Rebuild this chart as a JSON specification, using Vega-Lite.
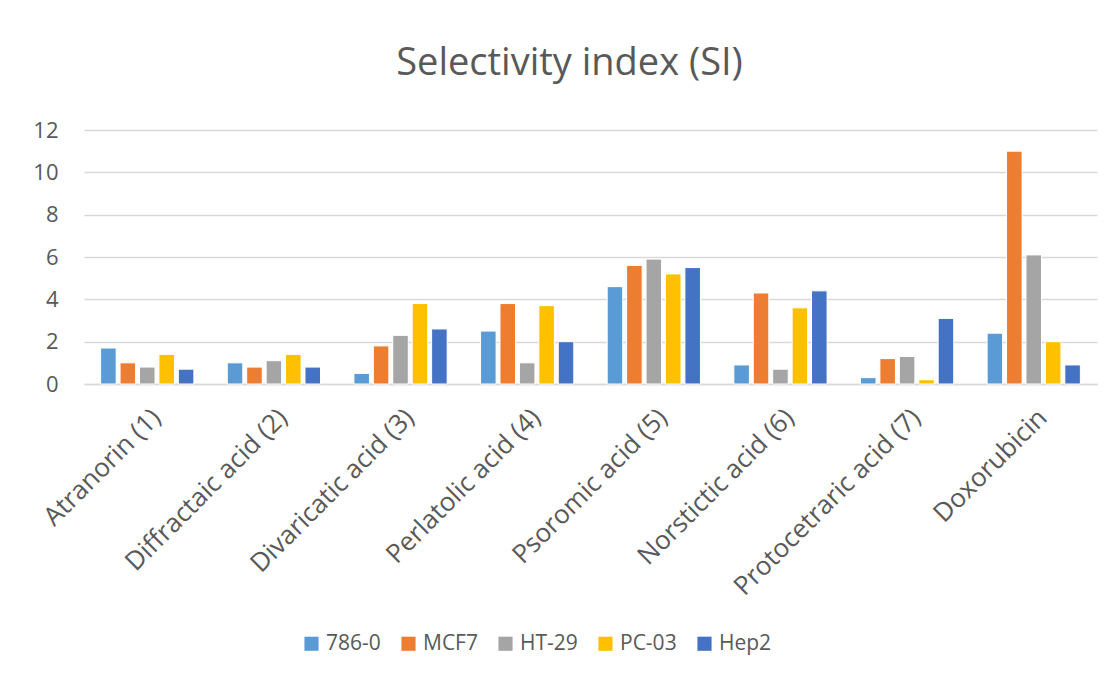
{
  "$schema": "https://vega.github.io/schema/vega-lite/v6.json",
  "autosize": "none",
  "width": 1013,
  "height": 254,
  "padding": {"left": 84, "top": 130, "right": 21, "bottom": 295},
  "background": "white",
  "title": {
    "text": "Selectivity index (SI)",
    "font": "Open Sans",
    "fontSize": 38,
    "fontWeight": "normal",
    "color": "#595959",
    "anchor": "middle",
    "dx": -21,
    "offset": 36
  },
  "data": {
    "values": [
      {"compound": "Atranorin (1)", "line": "786-0", "si": 1.7},
      {"compound": "Atranorin (1)", "line": "MCF7", "si": 1.0},
      {"compound": "Atranorin (1)", "line": "HT-29", "si": 0.8},
      {"compound": "Atranorin (1)", "line": "PC-03", "si": 1.4},
      {"compound": "Atranorin (1)", "line": "Hep2", "si": 0.7},
      {"compound": "Diffractaic acid (2)", "line": "786-0", "si": 1.0},
      {"compound": "Diffractaic acid (2)", "line": "MCF7", "si": 0.8},
      {"compound": "Diffractaic acid (2)", "line": "HT-29", "si": 1.1},
      {"compound": "Diffractaic acid (2)", "line": "PC-03", "si": 1.4},
      {"compound": "Diffractaic acid (2)", "line": "Hep2", "si": 0.8},
      {"compound": "Divaricatic acid (3)", "line": "786-0", "si": 0.5},
      {"compound": "Divaricatic acid (3)", "line": "MCF7", "si": 1.8},
      {"compound": "Divaricatic acid (3)", "line": "HT-29", "si": 2.3},
      {"compound": "Divaricatic acid (3)", "line": "PC-03", "si": 3.8},
      {"compound": "Divaricatic acid (3)", "line": "Hep2", "si": 2.6},
      {"compound": "Perlatolic acid (4)", "line": "786-0", "si": 2.5},
      {"compound": "Perlatolic acid (4)", "line": "MCF7", "si": 3.8},
      {"compound": "Perlatolic acid (4)", "line": "HT-29", "si": 1.0},
      {"compound": "Perlatolic acid (4)", "line": "PC-03", "si": 3.7},
      {"compound": "Perlatolic acid (4)", "line": "Hep2", "si": 2.0},
      {"compound": "Psoromic acid (5)", "line": "786-0", "si": 4.6},
      {"compound": "Psoromic acid (5)", "line": "MCF7", "si": 5.6},
      {"compound": "Psoromic acid (5)", "line": "HT-29", "si": 5.9},
      {"compound": "Psoromic acid (5)", "line": "PC-03", "si": 5.2},
      {"compound": "Psoromic acid (5)", "line": "Hep2", "si": 5.5},
      {"compound": "Norstictic acid (6)", "line": "786-0", "si": 0.9},
      {"compound": "Norstictic acid (6)", "line": "MCF7", "si": 4.3},
      {"compound": "Norstictic acid (6)", "line": "HT-29", "si": 0.7},
      {"compound": "Norstictic acid (6)", "line": "PC-03", "si": 3.6},
      {"compound": "Norstictic acid (6)", "line": "Hep2", "si": 4.4},
      {"compound": "Protocetraric acid (7)", "line": "786-0", "si": 0.3},
      {"compound": "Protocetraric acid (7)", "line": "MCF7", "si": 1.2},
      {"compound": "Protocetraric acid (7)", "line": "HT-29", "si": 1.3},
      {"compound": "Protocetraric acid (7)", "line": "PC-03", "si": 0.2},
      {"compound": "Protocetraric acid (7)", "line": "Hep2", "si": 3.1},
      {"compound": "Doxorubicin", "line": "786-0", "si": 2.4},
      {"compound": "Doxorubicin", "line": "MCF7", "si": 11.0},
      {"compound": "Doxorubicin", "line": "HT-29", "si": 6.1},
      {"compound": "Doxorubicin", "line": "PC-03", "si": 2.0},
      {"compound": "Doxorubicin", "line": "Hep2", "si": 0.9}
    ]
  },
  "mark": {"type": "bar", "stroke": "white", "strokeWidth": 1},
  "encoding": {
    "x": {
      "field": "compound",
      "type": "nominal",
      "sort": null,
      "scale": {"paddingInner": 0.233, "paddingOuter": 0.116},
      "axis": {
        "title": null,
        "labelAngle": -45,
        "labelFont": "Open Sans",
        "labelFontSize": 26,
        "labelLimit": 400,
        "labelColor": "#595959",
        "labelPadding": 20,
        "ticks": false,
        "domain": true,
        "domainColor": "#d9d9d9",
        "domainWidth": 1.5,
        "grid": false
      }
    },
    "xOffset": {
      "field": "line",
      "type": "nominal",
      "sort": ["786-0", "MCF7", "HT-29", "PC-03", "Hep2"],
      "scale": {"paddingInner": 0.2, "paddingOuter": 0.1}
    },
    "y": {
      "field": "si",
      "type": "quantitative",
      "scale": {"domain": [0, 12], "nice": false},
      "axis": {
        "title": null,
        "values": [0, 2, 4, 6, 8, 10, 12],
        "labelFont": "Open Sans",
        "labelFontSize": 22,
        "labelColor": "#595959",
        "labelPadding": 26,
        "ticks": false,
        "domain": false,
        "grid": true,
        "gridColor": "#d9d9d9",
        "gridWidth": 1.5
      }
    },
    "color": {
      "field": "line",
      "type": "nominal",
      "sort": ["786-0", "MCF7", "HT-29", "PC-03", "Hep2"],
      "scale": {
        "domain": ["786-0", "MCF7", "HT-29", "PC-03", "Hep2"],
        "range": ["#5b9bd5", "#ed7d31", "#a5a5a5", "#ffc000", "#4472c4"]
      },
      "legend": {
        "title": null,
        "orient": "none",
        "legendX": 217,
        "legendY": 503,
        "direction": "horizontal",
        "symbolType": "square",
        "symbolSize": 200,
        "symbolStrokeWidth": 0,
        "labelFont": "Open Sans",
        "labelFontSize": 21,
        "labelColor": "#595959",
        "labelOffset": 4,
        "columnPadding": 17
      }
    }
  },
  "config": {
    "view": {"stroke": null}
  }
}
